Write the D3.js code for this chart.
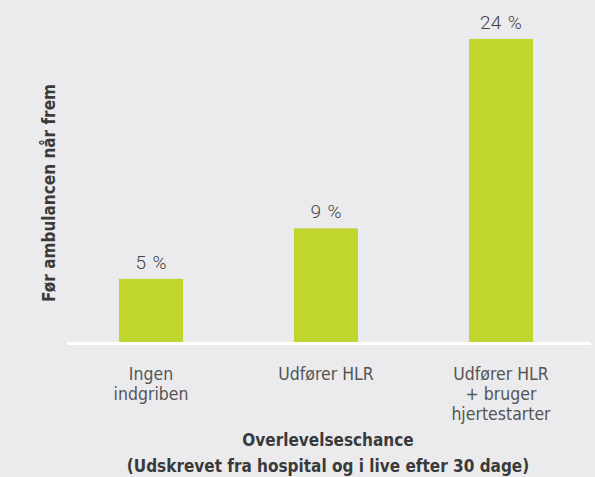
<!DOCTYPE html>
<html>
<head>
<meta charset="utf-8">
<script src="https://cdn.jsdelivr.net/npm/d3@7"></script>
<style>
  html, body { margin: 0; padding: 0; background: #ebebed; }
  svg { display: block; }
</style>
</head>
<body>
<div id="chart"></div>
<script>
// data
var categories = ["Ingen\nindgriben", "Udfører HLR", "Udfører HLR\n+ bruger\nhjertestarter"];
var values = [5, 9, 24];
var valueLabels = ["5 %", "9 %", "24 %"];
var yTitle = "Før ambulancen når frem";
var xTitle = ["Overlevelseschance", "(Udskrevet fra hospital og i live efter 30 dage)"];

const width = 595, height = 477;
const baseY = 342;

const svg = d3.select("#chart")
  .append("svg")
  .attr("width", width)
  .attr("height", height);

svg.append("rect")
  .attr("width", width)
  .attr("height", height)
  .attr("fill", "#ebebed");

const x = d3.scaleBand()
  .domain(categories)
  .range([63.5, 588.5])
  .paddingInner(0.634)
  .paddingOuter(0.317);

const y = d3.scaleLinear()
  .domain([0, 24])
  .range([baseY, 39]);

// bars
svg.selectAll(".bar")
  .data(values)
  .enter()
  .append("rect")
  .attr("class", "bar")
  .attr("x", (d, i) => x(categories[i]))
  .attr("y", d => y(d))
  .attr("width", x.bandwidth())
  .attr("height", d => y(0) - y(d))
  .attr("fill", "#c0d62f");

// white baseline
svg.append("line")
  .attr("x1", 67)
  .attr("x2", 591)
  .attr("y1", y(0) + 1.5)
  .attr("y2", y(0) + 1.5)
  .attr("stroke", "#ffffff")
  .attr("stroke-width", 3);

// value labels
svg.selectAll(".val")
  .data(values)
  .enter()
  .append("text")
  .attr("class", "val")
  .attr("x", (d, i) => x(categories[i]) + x.bandwidth() / 2)
  .attr("y", d => y(d) - 10)
  .attr("text-anchor", "middle")
  .attr("font-family", "Roboto, 'Liberation Sans', sans-serif")
  .attr("font-weight", 300)
  .attr("font-size", "19px")
  .attr("word-spacing", "2px")
  .attr("fill", "#444444")
  .text((d, i) => valueLabels[i]);

// category labels
const cat = svg.selectAll(".cat")
  .data(categories)
  .enter()
  .append("text")
  .attr("class", "cat")
  .attr("text-anchor", "middle")
  .attr("font-family", "'Liberation Sans Narrow', 'DejaVu Sans Condensed', sans-serif")
  .attr("font-size", "17.5px")
  .attr("fill", "#555555");

cat.selectAll("tspan")
  .data(d => d.split("\n").map(t => ({ t: t, c: d })))
  .enter()
  .append("tspan")
  .attr("x", d => x(d.c) + x.bandwidth() / 2)
  .attr("y", (d, i) => 380 + i * 20)
  .text(d => d.t);

// y title
svg.append("text")
  .attr("transform", "translate(55,193) rotate(-90)")
  .attr("text-anchor", "middle")
  .attr("font-family", "'Liberation Sans Narrow', 'DejaVu Sans Condensed', sans-serif")
  .attr("font-weight", "bold")
  .attr("font-size", "17px")
  .attr("fill", "#3a3a3a")
  .text(yTitle);

// x title
svg.selectAll(".xt")
  .data(xTitle)
  .enter()
  .append("text")
  .attr("class", "xt")
  .attr("x", 328)
  .attr("y", (d, i) => 446 + i * 26)
  .attr("text-anchor", "middle")
  .attr("font-family", "'Liberation Sans Narrow', 'DejaVu Sans Condensed', sans-serif")
  .attr("font-weight", "bold")
  .attr("font-size", "17px")
  .attr("fill", "#3a3a3a")
  .text(d => d);
</script>
</body>
</html>
